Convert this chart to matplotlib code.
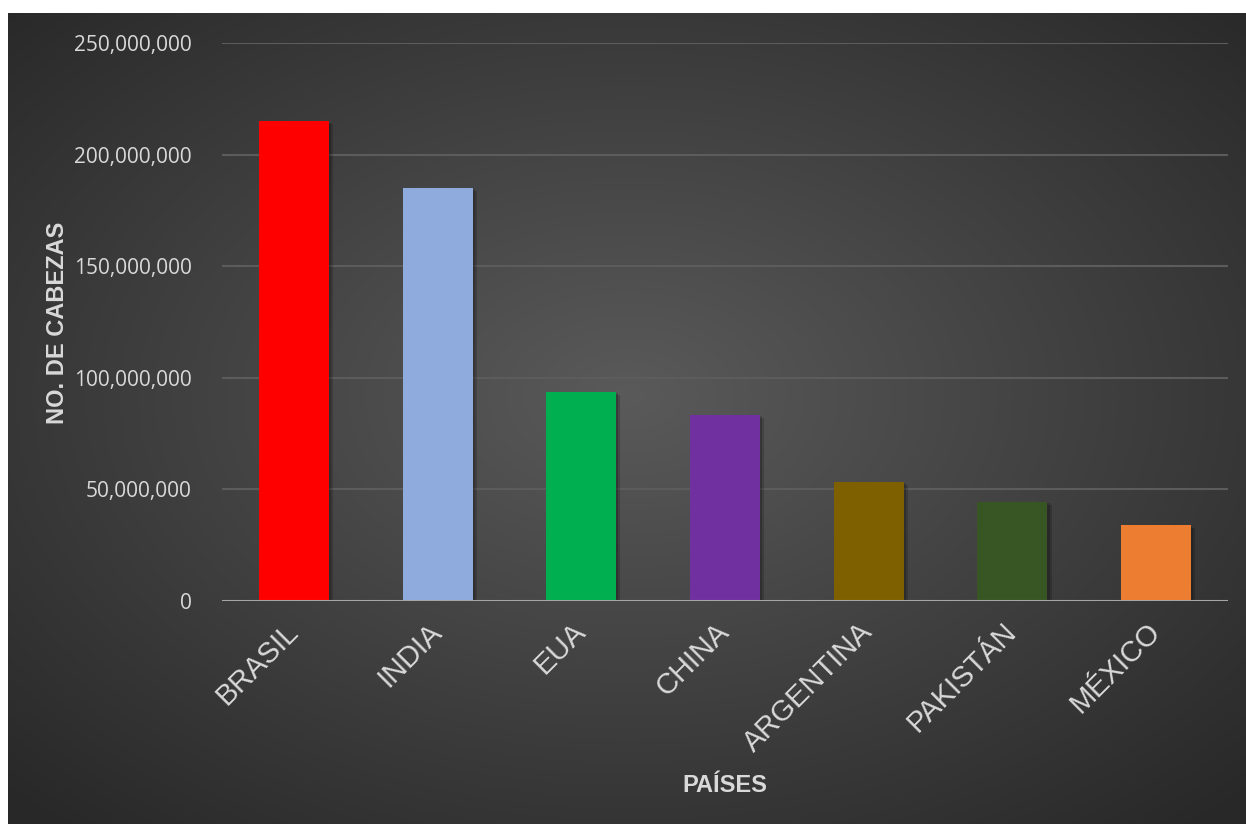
import numpy as np
import matplotlib.pyplot as plt
import matplotlib.patheffects as pe
from matplotlib.ticker import FuncFormatter

paises = ['BRASIL', 'INDIA', 'EUA', 'CHINA', 'ARGENTINA', 'PAKISTÁN', 'MÉXICO']
cabezas = [215000000, 185000000, 93600000, 83300000, 53300000, 44400000, 34000000]
colores = ['#FF0000', '#8FAADC', '#00B050', '#7030A0', '#7F6000', '#375623', '#ED7D31']

W, H = 1246, 824
fig = plt.figure(figsize=(W / 100, H / 100), dpi=100)
fig.patch.set_facecolor('white')

# fondo con degradado radial
bg = fig.add_axes([8 / W, 0, 1 - 8 / W, 1 - 13 / H])
bg.set_axis_off()
ny, nx = 300, 450
yy, xx = np.mgrid[0:ny, 0:nx]
r = np.sqrt(((xx - nx * 0.5) / (nx * 0.5)) ** 2 + ((yy - ny * 0.47) / (ny * 0.5)) ** 2) / np.sqrt(2)
r = np.clip(r, 0, 1)
c0, c1 = 0x5a / 255, 0x28 / 255
val = c0 + (c1 - c0) * r
img = np.dstack([val, val, val])
bg.imshow(img, aspect='auto', extent=[0, 1, 0, 1], interpolation='bilinear')
bg.set_xlim(0, 1)
bg.set_ylim(0, 1)

ax = fig.add_axes([222 / W, 1 - 601 / H, (1228 - 222) / W, (601 - 43) / H])
ax.patch.set_alpha(0)
x = np.arange(len(paises))
bars = ax.bar(x, cabezas, width=0.487, color=colores, zorder=3)
for b in bars:
    b.set_path_effects([pe.SimplePatchShadow(offset=(3, -2), shadow_rgbFace='black', alpha=0.18),
                        pe.SimplePatchShadow(offset=(1.5, -1), shadow_rgbFace='black', alpha=0.18),
                        pe.Normal()])

ax.set_xlim(-0.5, len(paises) - 0.5)
ax.set_ylim(0, 250000000)
ax.set_yticks(np.arange(0, 250000001, 50000000))
ax.yaxis.set_major_formatter(FuncFormatter(lambda v, p: f'{int(v):,}'))
ax.grid(axis='y', color='#5c5c5c', linewidth=1.5, zorder=0)
ax.axhline(0, color='#a6a6a6', linewidth=2.2, zorder=4)
for s in ax.spines.values():
    s.set_visible(False)
ax.tick_params(axis='both', length=0)
ax.tick_params(axis='y', pad=22, labelsize=15, labelcolor='#d9d9d9')
for t in ax.get_yticklabels():
    t.set_fontfamily('Open Sans')

ax.set_xticks(x)
ax.set_xticklabels(paises, rotation=45, ha='right', va='center', rotation_mode='anchor',
                   fontsize=21, color='#d9d9d9', fontfamily='Liberation Sans')
ax.tick_params(axis='x', pad=19)

fig.text(58 / W, 1 - 323 / H, 'NO. DE CABEZAS', rotation=90, ha='center', va='center',
         fontsize=17, fontweight='bold', color='#d9d9d9', fontfamily='Liberation Sans')
fig.text(725 / W, 1 - 786 / H, 'PAÍSES', ha='center', va='center',
         fontsize=17, fontweight='bold', color='#d9d9d9', fontfamily='Liberation Sans')

fig.savefig('out.png', dpi=100, facecolor=fig.get_facecolor())
